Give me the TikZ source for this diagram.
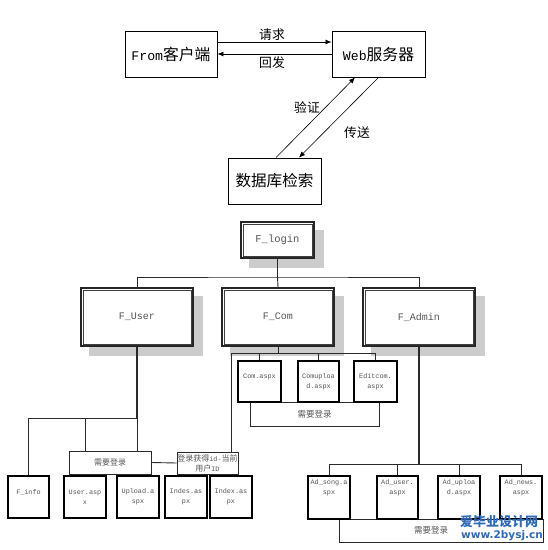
\documentclass[tikz,border=0pt]{standalone}
\usepackage{fontspec}
\setmainfont{Liberation Mono}
\newfontfamily\cjk{Noto Sans CJK SC}
\newfontfamily\wmsans{DejaVu Sans}
\usetikzlibrary{arrows.meta,backgrounds}
\definecolor{txtgray}{HTML}{555555}
\definecolor{linegray}{HTML}{2A2A2A}
\definecolor{shadowgray}{HTML}{CCCCCC}
\definecolor{wmblue}{HTML}{2F6AB8}
\begin{document}
\begin{tikzpicture}[x=1pt,y=-1pt,
  topbox/.style={draw=black, line width=0.9pt, fill=white, inner sep=0pt, minimum width=93pt, minimum height=46pt},
  lbl/.style={inner sep=0pt, font=\cjk\fontsize{12.8}{14}\selectfont},
  arr/.style={draw=black, line width=0.8pt, -{Latex[length=6pt,width=5pt]}},
  diag/.style={draw=black, line width=0.6pt, -{Latex[length=6pt,width=5pt]}},
  mainbox/.style={draw=black!85, line width=1.6pt, fill=white, text=txtgray, inner sep=0pt},
  innerline/.style={draw=black!75, line width=0.6pt},
  shadowfill/.style={fill=shadowgray},
  childbox/.style={draw=black, line width=1.8pt, fill=white, text=txtgray, align=center, inner sep=0pt,
     font=\fontsize{6.8}{10}\selectfont, minimum width=42pt, minimum height=42pt},
  needbox/.style={draw=linegray, line width=0.8pt, fill=white, text=txtgray, inner sep=0pt, align=center,
     font=\cjk\fontsize{8.5}{10}\selectfont},
  conn/.style={draw=linegray, line width=0.9pt},
  thickconn/.style={draw=linegray, line width=1.7pt}
]
\useasboundingbox (0,0) rectangle (548,550);

% ---------- top part ----------
\node[topbox, minimum width=92pt] (client) at (171,54)
  {{\fontsize{13.2}{16}\selectfont From}{\cjk\fontsize{15.8}{16}\selectfont 客户端}};
\node[topbox] (web) at (378.5,54)
  {{\fontsize{13.2}{16}\selectfont Web}{\cjk\fontsize{15.8}{16}\selectfont 服务器}};
\node[topbox] (db) at (274.5,181)
  {\cjk\fontsize{15.6}{16}\selectfont 数据库检索};

\draw[arr] ([yshift=12pt]client.east) -- ([yshift=12pt]web.west);
\draw[arr] (web.west) -- (client.east);
\node[lbl] (lq) at (272,35) {请求};
\node[lbl] (lh) at (272,63) {回发};

\draw[diag] ([xshift=1.5pt]db.north) -- ([xshift=-23.5pt]web.south);
\draw[diag] (web.south) -- ([xshift=24.5pt]db.north);
\node[lbl] (lv) at (307,108) {验证};
\node[lbl] (lc) at (357,133) {传送};

% ---------- module tree ----------
\node[mainbox, minimum width=73pt, minimum height=36pt, font=\fontsize{10.5}{12}\selectfont] (login) at (277.5,240) {F\_login};
\node[mainbox, minimum width=112pt, minimum height=58pt, font=\fontsize{10}{12}\selectfont] (user) at (137,317) {F\_User};
\node[mainbox, minimum width=112pt, minimum height=58pt, font=\fontsize{10}{12}\selectfont] (com) at (278,317) {F\_Com};
\node[mainbox, minimum width=112pt, minimum height=58pt, font=\fontsize{10}{12}\selectfont] (admin) at (419,317) {F\_Admin};
\foreach \n in {login,user,com,admin}{
  \draw[innerline] ([shift={(2.6pt,-2.6pt)}]\n.north west) rectangle ([shift={(-2.6pt,2.6pt)}]\n.south east);
}
\begin{scope}[on background layer]
  \fill[white] (0,0) rectangle (548,550);
  \foreach \n in {login,user,com,admin}{
    \fill[shadowfill] ([shift={(9pt,-9pt)}]\n.north west) rectangle ([shift={(9pt,-9pt)}]\n.south east);
  }
\end{scope}

\coordinate (bar) at (277.5,277);
\draw[thickconn] (login.south) -- (bar);
\draw[conn] (user.north) |- (bar) -| (admin.north);
\draw[conn] (bar) -- (com.north);

% F_Com children
\node[needbox, minimum width=129pt, minimum height=24pt] (need2) at (314.5,414) {需要登录};
\node[childbox, minimum width=43pt, minimum height=41pt] (cc1) at (259.5,381.5) {Com.aspx\\\phantom{x}};
\node[childbox, minimum width=41pt, minimum height=41pt] (cc2) at (318.5,381.5) {Comuploa\\d.aspx};
\node[childbox, minimum width=43pt, minimum height=41pt] (cc3) at (375.5,381.5) {Editcom.\\aspx};

% F_User children
\node[needbox, minimum width=82pt, minimum height=23pt, font=\cjk\fontsize{8}{10}\selectfont] (need1) at (110,462.5) {需要登录};
\node[needbox, minimum width=61pt, minimum height=22pt, font=\fontsize{6.7}{10}\selectfont] (idbox) at (207.5,463)
  {{\cjk\fontsize{8}{10}\selectfont 登录获得}id-{\cjk\fontsize{8}{10}\selectfont 当前}\\{\cjk\fontsize{8}{10}\selectfont 用户}ID};
\node[childbox, minimum width=41pt] (finfo) at (28.5,497) {F\_info\\\phantom{x}};
\node[childbox] (uc1) at (85,497) {User.asp\\x};
\node[childbox] (uc2) at (138,497) {Upload.a\\spx};
\node[childbox] (uc3) at (186,497) {Indes.as\\px};
\node[childbox] (uc4) at (231,497) {Index.as\\px};

% F_Admin children
\node[needbox, minimum width=204pt, minimum height=23pt, font=\cjk\fontsize{8.5}{10}\selectfont] (need3) at (441,530.5) {\hspace*{-20pt}需要登录};
\node[childbox, minimum height=43pt] (ac1) at (329,497.5) {Ad\_song.a\\spx\\\phantom{x}\\\phantom{x}};
\node[childbox, minimum width=41pt, minimum height=43pt] (ac2) at (397.5,497.5) {Ad\_user.\\aspx\\\phantom{x}\\\phantom{x}};
\node[childbox, minimum height=43pt] (ac3) at (459,497.5) {Ad\_uploa\\d.aspx\\\phantom{x}\\\phantom{x}};
\node[childbox, minimum height=43pt] (ac4) at (521,497.5) {Ad\_news.\\aspx\\\phantom{x}\\\phantom{x}};

% connectors: F_Com
\coordinate (comL) at (231,353);
\draw[conn] (com.south) -- (com.south |- comL);
\draw[conn] (idbox.north -| comL) -- (comL) -- (cc3.north |- comL) -- (cc3.north);
\draw[conn] (cc1.north) -- (cc1.north |- comL);
\draw[conn] (cc2.north) -- (cc2.north |- comL);

% connectors: F_User
\coordinate (uj) at (137,418);
\draw[thickconn] (user.south) -- (uj);
\draw[conn] (need1.north -| uj) -- (uj) -| (finfo.north);
\draw[conn] (need1.north -| uc1.north) -- (uc1.north |- uj);
\draw[conn] (need1.east) -- (idbox.west);

% connectors: F_Admin
\coordinate (aj) at (419,464);
\draw[thickconn, line width=1.3pt] (admin.south) -- (aj);
\draw[conn] (ac1.north) |- (ac4.north |- aj) -- (ac4.north);
\draw[conn] (ac2.north) -- (ac2.north |- aj);
\draw[conn] (ac3.north) -- (ac3.north |- aj);

% watermark
\node[inner sep=0pt, text=wmblue, font=\cjk\bfseries\fontsize{13}{13}\selectfont] (wm1) at (499,522) {爱毕业设计网};
\node[inner sep=0pt, text=wmblue, font=\wmsans\bfseries\fontsize{10.5}{11}\selectfont] (wm2) at (502,536) {www.2bysj.cn};
\end{tikzpicture}
\end{document}
